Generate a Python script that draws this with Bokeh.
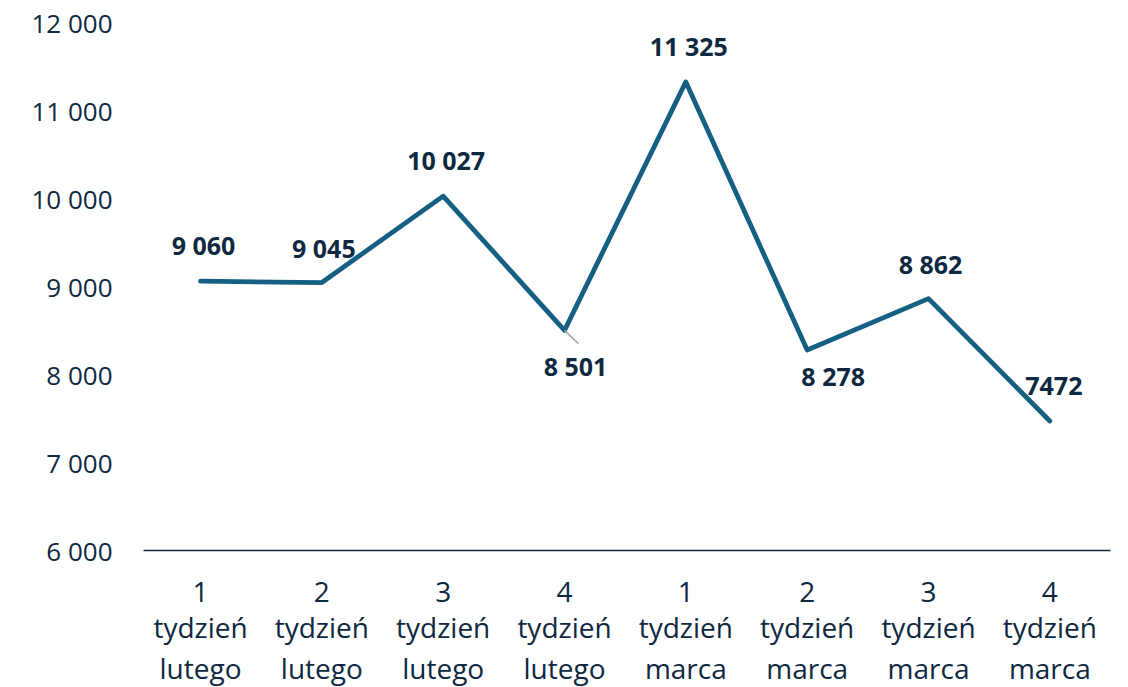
from bokeh.plotting import figure
from bokeh.models import FixedTicker, ColumnDataSource, Range1d, LinearAxis
from bokeh.core.properties import value
from bokeh.embed import file_html
from bokeh.resources import INLINE

weeks = ["1", "2", "3", "4", "1", "2", "3", "4"]
week_word = ["tydzień"] * 8
months = ["lutego", "lutego", "lutego", "lutego", "marca", "marca", "marca", "marca"]
values = [9060, 9045, 10027, 8501, 11325, 8278, 8862, 7472]
value_labels = ["9 060", "9 045", "10 027", "8 501", "11 325", "8 278", "8 862", "7472"]
y_ticks = [6000, 7000, 8000, 9000, 10000, 11000, 12000]
y_tick_labels = ["6 000", "7 000", "8 000", "9 000", "10 000", "11 000", "12 000"]

# label placement (style), screen pixels (positive dy = downward)
label_dx = [3, 2, 3, 11, 3, 26, 2, 4]
label_dy = [-36, -35, -36, 36, -36, 26, -35, -35]

TEXT = "#0E2841"
LINE = "#156082"
FONT = "Open Sans"

xs = list(range(len(values)))

p = figure(frame_width=967, frame_height=528, output_backend="svg", toolbar_location=None,
           x_range=Range1d(-0.47, 7.5), y_range=Range1d(6000, 12000),
           min_border_left=143, min_border_right=10, min_border_top=22, min_border_bottom=0)
p.outline_line_color = None
p.xgrid.visible = False
p.ygrid.visible = False

p.line(xs, values, line_color=LINE, line_width=4.8, line_join="round", line_cap="round")

# leader line for the 4th label
i = 3
p.segment(x0=[xs[i]], y0=[values[i]], x1=[xs[i] + 0.115], y1=[values[i] - 150],
          line_color="#A6A6A6", line_width=1.5)

src = ColumnDataSource(dict(x=xs, y=values, t=value_labels, dx=label_dx, dy=label_dy))
p.text(x="x", y="y", text="t", x_offset="dx", y_offset="dy", source=src,
       text_font=value(FONT), text_font_style="bold", text_font_size="25px",
       text_color=TEXT, text_align="center", text_baseline="middle")


def style_x(ax, labels, standoff):
    ax.ticker = FixedTicker(ticks=xs)
    ax.major_label_overrides = {k: t for k, t in enumerate(labels)}
    ax.major_tick_line_color = None
    ax.minor_tick_line_color = None
    ax.major_tick_out = 0
    ax.major_tick_in = 0
    ax.major_label_standoff = standoff
    ax.major_label_text_font = FONT
    ax.major_label_text_font_size = "28px"
    ax.major_label_text_color = TEXT


ax1 = p.xaxis[0]
style_x(ax1, weeks, 31)
ax1.axis_line_color = TEXT
ax1.axis_line_width = 1.5

for labels, so in ((week_word, 3), (months, 0)):
    ax = LinearAxis()
    style_x(ax, labels, so)
    ax.axis_line_color = None
    p.add_layout(ax, "below")

p.yaxis.ticker = FixedTicker(ticks=y_ticks)
p.yaxis.major_label_overrides = {t: l for t, l in zip(y_ticks, y_tick_labels)}
p.yaxis.axis_line_color = None
p.yaxis.major_tick_line_color = None
p.yaxis.minor_tick_line_color = None
p.yaxis.major_tick_out = 0
p.yaxis.major_label_standoff = 31
p.yaxis.major_label_text_font = FONT
p.yaxis.major_label_text_font_size = "26px"
p.yaxis.major_label_text_color = TEXT

open("out.html", "w").write(file_html(p, INLINE))
